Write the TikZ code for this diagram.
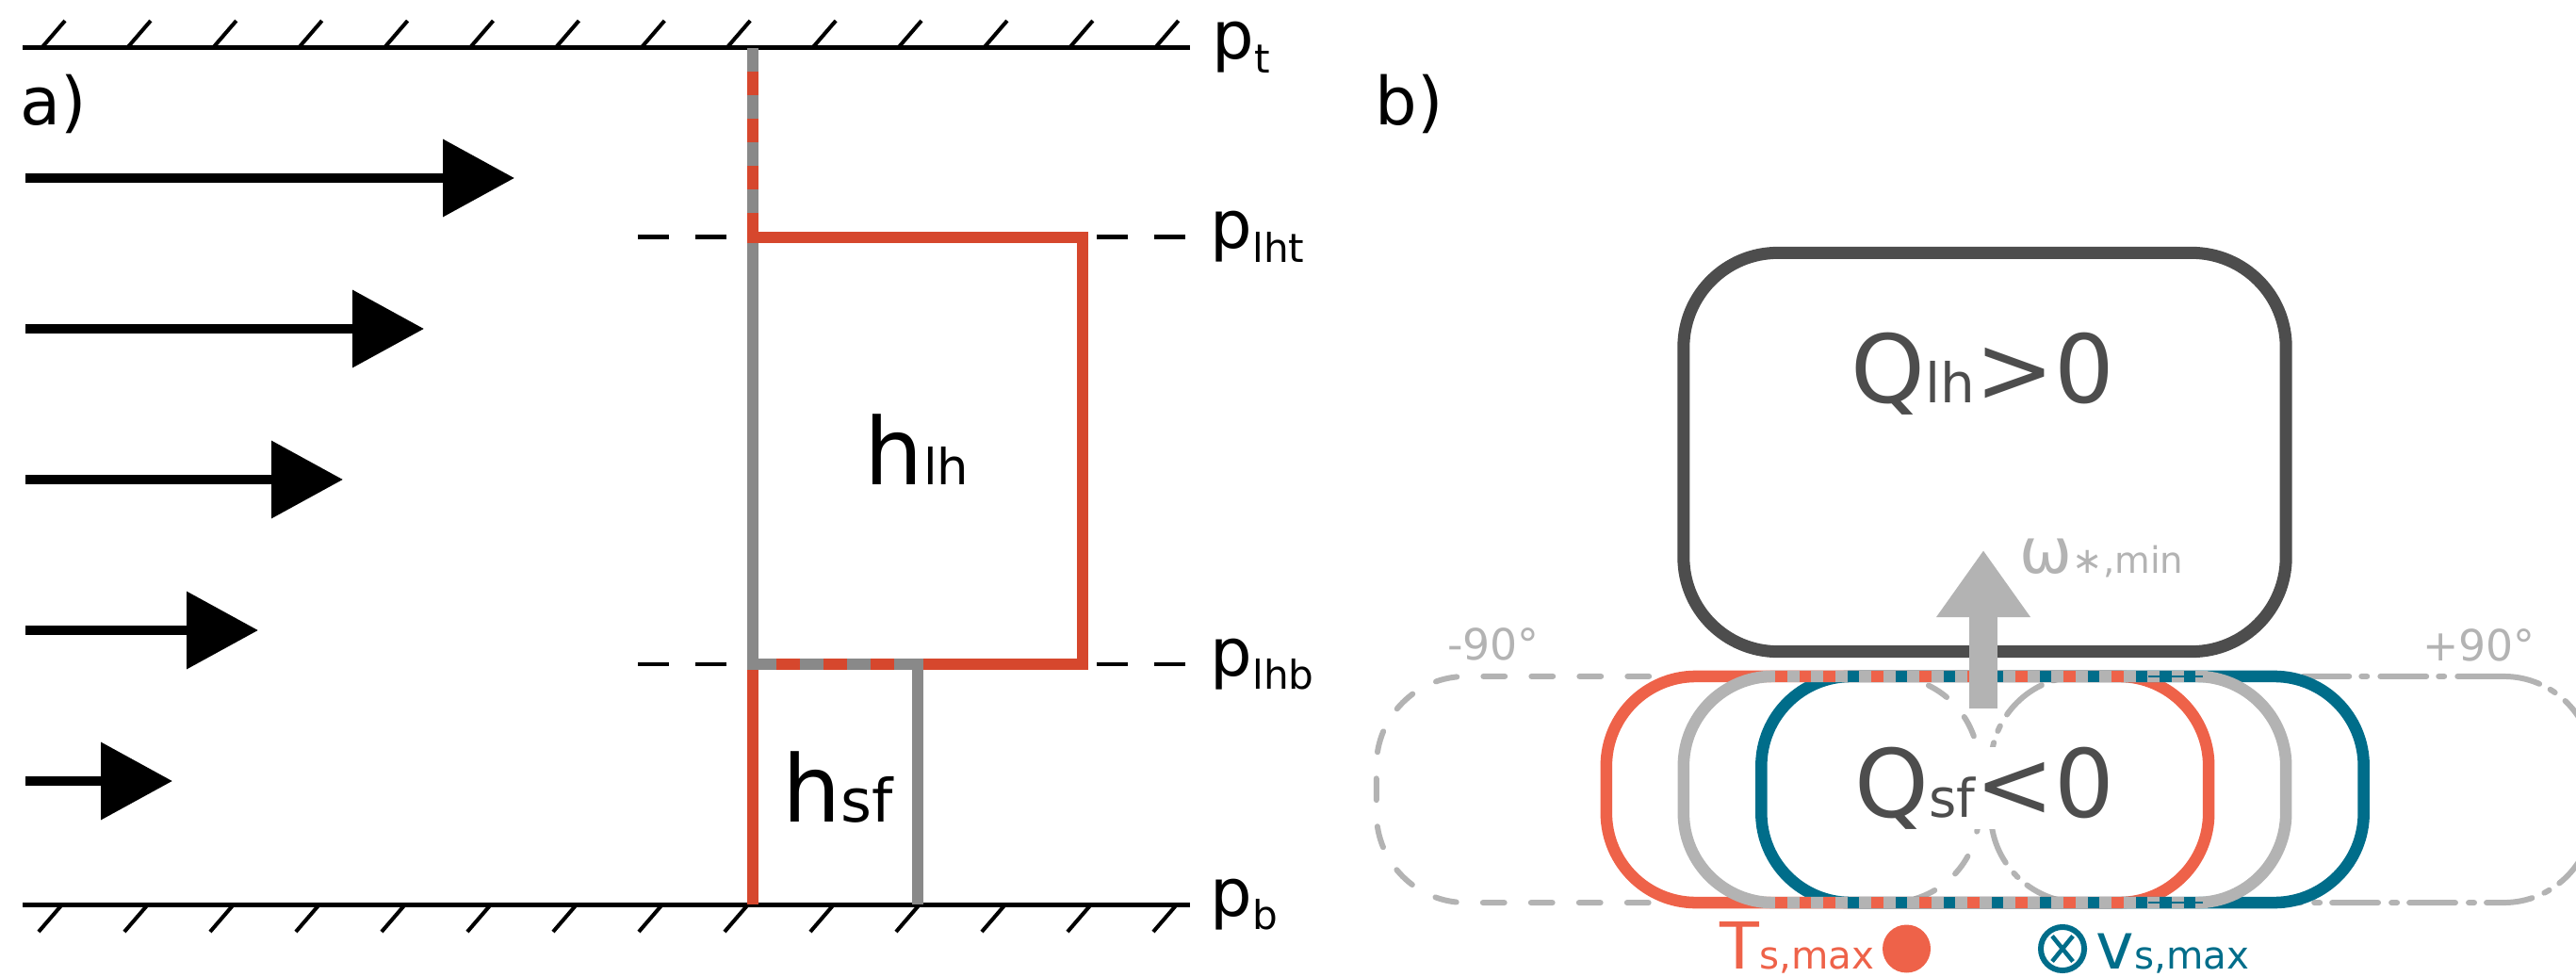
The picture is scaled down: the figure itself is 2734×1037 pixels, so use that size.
\documentclass[tikz,border=0pt]{standalone}
\usepackage{fontspec}
\setmainfont{DejaVu Sans}
\usetikzlibrary{arrows.meta}
\definecolor{lred}{HTML}{D6472D}
\definecolor{lgray}{HTML}{898989}
\definecolor{coral}{HTML}{EE6249}
\definecolor{teal}{HTML}{006D8A}
\definecolor{ghostgray}{HTML}{B3B3B3}
\definecolor{darkgray}{HTML}{4D4D4D}
\newcommand\fsz[1]{\fontsize{#1pt}{#1pt}\selectfont}
\begin{document}
\begin{tikzpicture}[x=0.01cm,y=-0.01cm,
  wall/.style={line width=1.42pt,black},
  hatch/.style={line width=1.15pt,black},
  level/.style={line width=1.42pt,black,dash pattern=on 9.4pt off 8pt},
  flow/.style={line width=2.85pt,black,-{Triangle[length=21.6pt,width=22.8pt]}},
  col/.style={line width=3.27pt},
  alt/.style={dash pattern=on 7.11pt off 7.11pt,dash phase=7.11pt},
  lab/.style={inner sep=0pt,anchor=base west},
  oval/.style={rectangle,line width=3.56pt,rounded corners=0.95cm,minimum width=6.39cm,minimum height=2.4cm,inner sep=0pt},
  ghost/.style={rectangle,draw=ghostgray,line width=1.7pt,line cap=round,rounded corners=0.95cm,minimum width=6.39cm,minimum height=2.4cm,inner sep=0pt}
]
\useasboundingbox (0,0) rectangle (2734,1037);

% ---------------- a) column ----------------
\node[lab] (la) at (21,133) {\fsz{20}a)};

% top and bottom walls with hatching
\coordinate (wtl) at (24,51);   \coordinate (wtr) at (1263,51);
\coordinate (wbl) at (24,960);  \coordinate (wbr) at (1263,960);
\draw[wall] (wtl) -- (wtr);
\draw[wall] (wbl) -- (wbr);
\foreach \i in {0,...,13} \draw[hatch] ({44+90.9*\i},51) -- ++(25,-29);
\foreach \i in {0,...,13} \draw[hatch] ({66+91*\i},960) -- ++(-25,29);

% wind profile arrows
\foreach \y/\tip in {189/546,349/450,509/364,669/274,829/183}
  \draw[flow] (27,\y) -- (\tip,\y);

% layer structure
\coordinate (top) at (799,51);
\coordinate (lht) at (799,252);
\coordinate (lhb) at (799,705);
\coordinate (rt)  at (1149,252);
\coordinate (rb)  at (1149,705);
\coordinate (sfr) at (974,705);
\coordinate (bot) at (799,960);
\coordinate (sfb) at (974,960);

\draw[lred,col] (lhb) -- (bot);
\draw[lgray,col] (top) -- (lhb) -- (sfr) -- (sfb);
\draw[lred,col,alt] (top) -- (lht);
\draw[lred,col,alt] (lhb) -- (sfr);
\draw[lred,col] ([xshift=-1.64pt]lht) -- (rt) -- (rb) -- ([xshift=1.64pt]sfr);

% level markers
\draw[level] (677,252) -- (772,252);
\draw[level] (1164,252) -- (1259,252);
\draw[level] (677,705) -- (772,705);
\draw[level] (1164,705) -- (1259,705);

\node[lab] (pt)  at (1286,63)  {\fsz{20}p\raisebox{-4pt}{\fsz{12}t}};
\node[lab] (plht) at (1284,264) {\fsz{20}p\raisebox{-4pt}{\fsz{12}lht}};
\node[lab] (plhb) at (1284,717) {\fsz{20}p\raisebox{-4pt}{\fsz{12}lhb}};
\node[lab] (pb)  at (1284,972) {\fsz{20}p\raisebox{-4pt}{\fsz{12}b}};

\node[anchor=base,inner sep=0pt] (hlh) at (973,515) {\fsz{28}h{\fsz{15}lh}};
\node[anchor=base,inner sep=0pt] (hsf) at (889,872) {\fsz{28}h{\fsz{18}sf}};

% ---------------- b) column ----------------
\node[lab] (lb) at (1459,133) {\fsz{20}b)};

% rotated surface-flux regions
\node[ghost,dash pattern=on 6.5pt off 8pt] (m90) at (1780.5,838) {};
\node[ghost,dash pattern=on 13.9pt off 4pt on 1.7pt off 3.7pt] (p90) at (2432.5,838) {};
\node[anchor=base,inner sep=0pt,text=ghostgray] (m90lab) at (1585,700) {\fsz{13}-90°};
\node[anchor=base,inner sep=0pt,text=ghostgray] (p90lab) at (2631,702) {\fsz{13}+90°};

\node[anchor=base,inner sep=0pt,fill=white,text=darkgray] (qsf) at (2106,867) {\fsz{28.5}Q{\fsz{16}sf}<0};

\node[oval,draw=coral] (tbox) at (2024.5,838) {};
\node[oval,draw=teal] (vbox) at (2189,838) {};
\node[oval,draw=ghostgray] (sfbox) at (2106.5,838) {};

% shared edges of the three regions
\foreach \yy in {711.75,951.75} {
  \foreach \k in {0,2,4,8,12,16,20,24,28}
    \fill[coral] ({1884+12.75*\k},\yy) rectangle ++(12.75,12.5);
  \foreach \k in {6,10,14,18,22,26,30,32,34}
    \fill[teal] ({1884+12.75*\k},\yy) rectangle ++(12.75,12.5);
  \foreach \k in {1,3,...,35}
    \fill[ghostgray] ({1884+12.75*\k},\yy) rectangle ++(12.75,12.5);
}
\draw[teal,line width=0.45pt] (2280,718) -- (2338,718);
\draw[teal,line width=0.45pt] (2280,958) -- (2338,958);

% latent heating region
\node[rectangle,draw=darkgray,line width=3.7pt,rounded corners=1cm,minimum width=6.39cm,minimum height=4.23cm,inner sep=0pt] (lhbox) at (2106.5,480) {};
\node[anchor=base,inner sep=0pt,text=darkgray] (qlh) at (2104.5,428) {\fsz{28.5}Q{\fsz{16.5}lh}>0};

% ascent arrow
\coordinate (ws) at (2105,752);
\coordinate (we) at (2105,584);
\draw[ghostgray,line width=8.5pt,-{Triangle[length=20.2pt,width=27pt]}] (ws) -- (we);
\node[lab,text=ghostgray] (om) at (2143,609) {\fsz{19}ω{\fsz{11}∗,min}};

% legend
\node[lab,text=coral] (tlab) at (1825,1028) {\fsz{19.5}T{\fsz{11.5}s,max}};
\node[circle,fill=coral,minimum size=14.5pt,inner sep=0pt] (tdot) at (2023.5,1007) {};
\node[circle,draw=teal,line width=1.7pt,minimum size=13.1pt,inner sep=0pt] (vsym) at (2189,1007) {};
\draw[teal,line width=1.3pt] ([shift={(-11,-13.5)}]vsym.center) -- ([shift={(11,13.5)}]vsym.center);
\draw[teal,line width=1.3pt] ([shift={(-11,13.5)}]vsym.center) -- ([shift={(11,-13.5)}]vsym.center);
\node[lab,text=teal] (vlab) at (2224,1028) {\fsz{19.5}v{\fsz{11.5}s,max}};
\end{tikzpicture}
\end{document}
